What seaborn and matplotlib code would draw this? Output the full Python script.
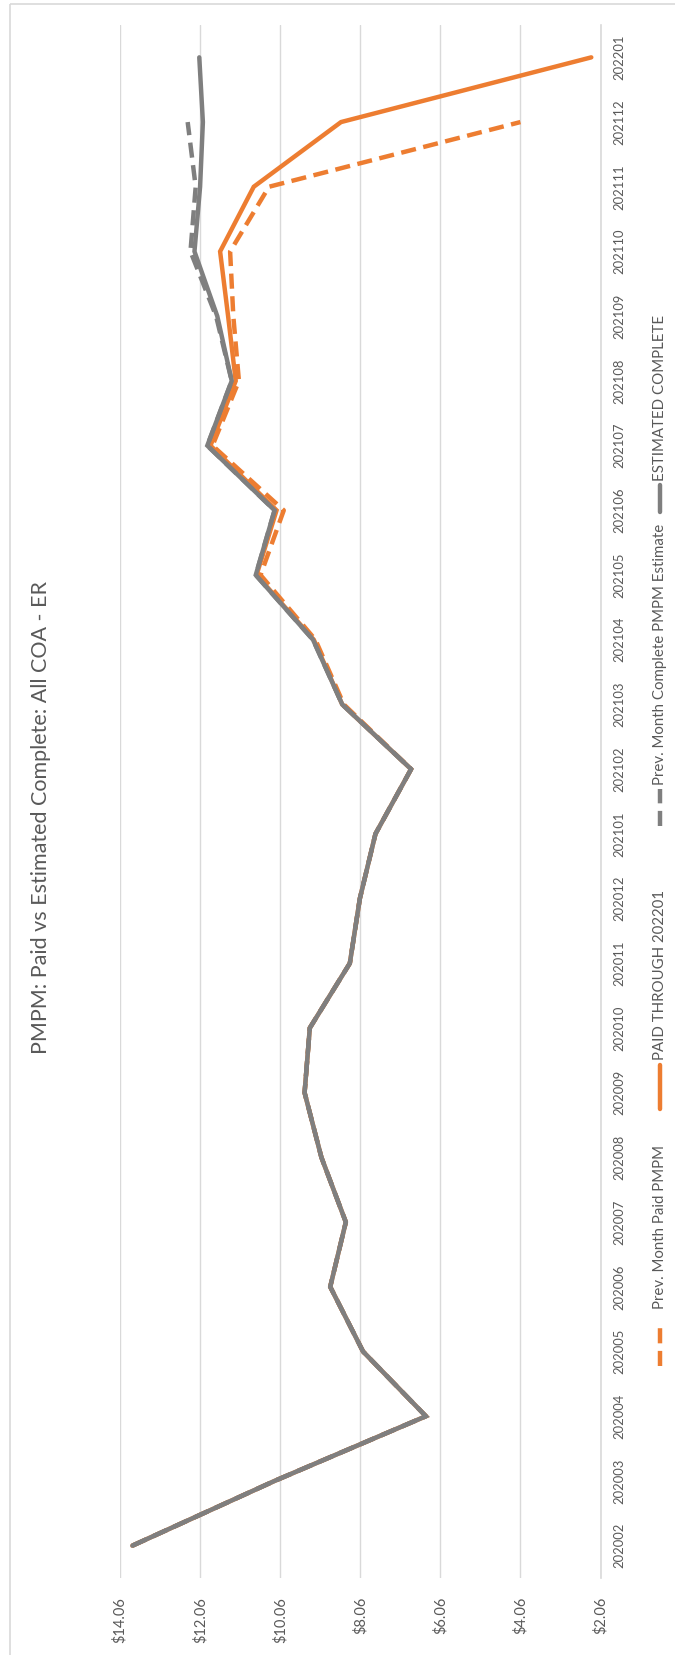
import matplotlib
matplotlib.use("Agg")
import matplotlib.pyplot as plt
from matplotlib.patches import Rectangle
import seaborn as sns
import numpy as np

# ---- data -------------------------------------------------------------
months = ["202002", "202003", "202004", "202005", "202006", "202007",
          "202008", "202009", "202010", "202011", "202012", "202101",
          "202102", "202103", "202104", "202105", "202106", "202107",
          "202108", "202109", "202110", "202111", "202112", "202201"]

estimated_complete = [13.75, 10.20, 6.42, 7.99, 8.81, 8.42, 9.03, 9.45,
                      9.32, 8.32, 8.07, 7.68, 6.79, 8.51, 9.24, 10.67,
                      10.20, 11.88, 11.27, 11.63, 12.20, 12.06, 11.99, 12.08]

prev_month_complete = [13.75, 10.20, 6.42, 7.99, 8.81, 8.42, 9.03, 9.45,
                       9.32, 8.32, 8.07, 7.68, 6.79, 8.51, 9.24, 10.67,
                       10.20, 11.88, 11.27, 11.66, 12.30, 12.17, 12.37]

paid_through = [13.75, 10.20, 6.42, 7.99, 8.81, 8.42, 9.03, 9.45,
                9.32, 8.32, 8.07, 7.68, 6.79, 8.51, 9.22, 10.65,
                10.15, 11.80, 11.17, 11.36, 11.56, 10.72, 8.54, 2.29]

prev_month_paid = [13.75, 10.20, 6.42, 7.99, 8.81, 8.42, 9.03, 9.45,
                   9.32, 8.32, 8.07, 7.68, 6.79, 8.47, 9.18, 10.55,
                   9.97, 11.75, 11.09, 11.23, 11.31, 10.34, 4.06]

value_ticks = [14.06, 12.06, 10.06, 8.06, 6.06, 4.06, 2.06]

title = "PMPM: Paid vs Estimated Complete: All COA - ER"
legend_labels = ["Prev. Month Paid PMPM", "PAID THROUGH 202201",
                 "Prev. Month Complete PMPM Estimate", "ESTIMATED COMPLETE"]

# ---- style ------------------------------------------------------------
sns.set_theme(style="white")
plt.rcParams["font.family"] = ["Lato", "DejaVu Sans"]

ORANGE = "#ED7D31"
GRAY = "#7F7F7F"
TEXT = "#595959"
GRID = "#D9D9D9"
LW = 3.2
DASH = (3.4, 1.7)

W, H = 675, 1655
fig = plt.figure(figsize=(W / 100, H / 100), dpi=100)
fig.patch.set_facecolor("white")

# plot area in pixel coordinates (left, right, top, bottom)
px_l, px_r, px_t, px_b = 120, 600.5, 25, 1578
ax = fig.add_axes([px_l / W, 1 - px_b / H, (px_r - px_l) / W, (px_b - px_t) / H])

pos = np.arange(len(months))

series = [
    (prev_month_paid, ORANGE, DASH),
    (paid_through, ORANGE, None),
    (prev_month_complete, GRAY, DASH),
    (estimated_complete, GRAY, None),
]
for vals, color, dash in series:
    n = len(vals)
    line_kws = dict(color=color, linewidth=LW, solid_capstyle="round",
                    solid_joinstyle="miter")
    if dash is not None:
        line_kws.update(dashes=dash, dash_capstyle="butt")
    sns.lineplot(x=vals, y=pos[:n], orient="y", sort=False, ax=ax,
                 legend=False, **line_kws)

# value axis runs right-to-left, categories bottom-to-top
ax.set_xlim(value_ticks[0], value_ticks[-1])
ax.set_ylim(-0.5, len(months) - 0.5)
ax.set_xticks(value_ticks)
ax.set_xticklabels([f"${v:.2f}" for v in value_ticks])
ax.set_yticks(pos)
ax.set_yticklabels(months)
ax.yaxis.tick_right()
ax.set_xlabel("")
ax.set_ylabel("")

ax.grid(axis="x", color=GRID, linewidth=1.0)
ax.grid(axis="y", visible=False)
for side in ["left", "top", "bottom"]:
    ax.spines[side].set_visible(False)
ax.spines["right"].set_color(GRID)
ax.spines["right"].set_linewidth(1.2)

ax.tick_params(axis="x", length=0, pad=13.5, labelsize=10.5, labelcolor=TEXT,
               labelrotation=90)
ax.tick_params(axis="y", length=0, pad=9.5, labelsize=9.4, labelcolor=TEXT,
               labelrotation=90)
for lab in ax.get_yticklabels():
    lab.set_verticalalignment("center")
    lab.set_horizontalalignment("left")

# ---- frame, title and legend drawn in pixel space ---------------------
ov = fig.add_axes([0, 0, 1, 1], zorder=-1)
ov.set_xlim(0, W)
ov.set_ylim(H, 0)
ov.axis("off")
ov.add_patch(Rectangle((10, 4), W + 10, H + 10, fill=False,
                       edgecolor=GRID, linewidth=1.2))

ov.text(41, 818, title, rotation=90, ha="center", va="center",
        fontsize=15.5, color=TEXT)

leg = fig.add_axes([0, 0, 1, 1], zorder=5)
leg.set_xlim(0, W)
leg.set_ylim(H, 0)
leg.axis("off")
leg.patch.set_visible(False)

legend_x = 660
legend_layout = [  # (handle start, handle end, text start)
    (1366, 1322, 1309),
    (1109, 1065, 1060),
    (826, 789, 785),
    (512, 485, 481),
]
legend_styles = [(ORANGE, DASH), (ORANGE, None), (GRAY, DASH), (GRAY, None)]
for (h0, h1, t0), (color, dash), label in zip(legend_layout, legend_styles,
                                              legend_labels):
    kws = dict(color=color, linewidth=LW)
    if dash is not None:
        kws.update(dashes=dash, dash_capstyle="butt")
    else:
        kws.update(solid_capstyle="round")
    leg.plot([legend_x, legend_x], [h0, h1], **kws)
    leg.text(legend_x, t0, label, rotation=90, rotation_mode="anchor",
             ha="left", va="center", fontsize=10.8, color=TEXT)

fig.savefig("out.png", dpi=100, facecolor="white")
